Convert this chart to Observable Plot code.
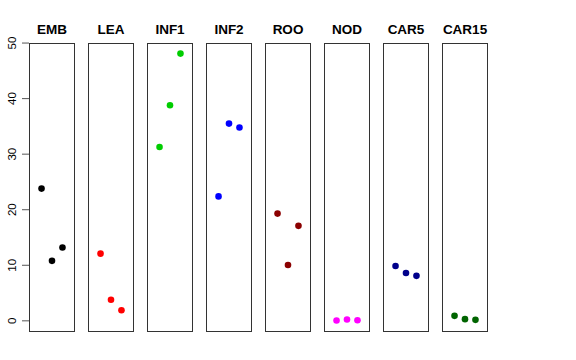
<!DOCTYPE html>
<html>
<head>
<meta charset="utf-8">
<script src="https://cdn.jsdelivr.net/npm/d3@7"></script>
<script src="https://cdn.jsdelivr.net/npm/@observablehq/plot@0.6"></script>
<style>
  body { margin: 0; background: #fff; }
  #chart svg { display: block; }
</style>
</head>
<body>
<div id="chart"></div>
<script>
const groups = ["EMB", "LEA", "INF1", "INF2", "ROO", "NOD", "CAR5", "CAR15"];
const colors = ["#000000", "#FF0000", "#00CD00", "#0000FF", "#8B0000", "#FF00FF", "#00008B", "#006400"];
const replicate = [1, 2, 3];
const values = {
  EMB:   [23.8, 10.8, 13.2],
  LEA:   [12.1, 3.8, 1.9],
  INF1:  [31.3, 38.8, 48.1],
  INF2:  [22.4, 35.5, 34.8],
  ROO:   [19.3, 10.05, 17.1],
  NOD:   [0.05, 0.23, 0.1],
  CAR5:  [9.87, 8.6, 8.1],
  CAR15: [0.9, 0.3, 0.18]
};
const yTicks = [0, 10, 20, 30, 40, 50];

const data = groups.flatMap(g => values[g].map((v, i) => ({group: g, rep: replicate[i], value: v})));

const plot = Plot.plot({
  width: 576,
  height: 360,
  marginLeft: 29,
  marginRight: 88,
  marginTop: 43,
  marginBottom: 29,
  style: {fontFamily: "'Liberation Sans', Arial, sans-serif", background: "#fff", color: "#000"},
  fx: {domain: groups, paddingInner: 0.237, paddingOuter: 0, label: null},
  x: {domain: [-0.15, 4.15], axis: null},
  y: {domain: [-1.92, 49.92], label: null},
  color: {domain: groups, range: colors},
  marks: [
    Plot.frame({stroke: "#333", strokeWidth: 1}),
    Plot.axisFx({anchor: "top", tickSize: 0, tickPadding: 10, fontWeight: "bold", fontSize: 13.5, label: null}),
    Plot.axisY({ticks: yTicks, tickSize: 7, tickPadding: 7, tickRotate: -90, fontSize: 11.5, label: null, stroke: "#555"}),
    Plot.dot(data, {fx: "group", x: "rep", y: "value", fill: "group", r: 3.3, stroke: null})
  ]
});
document.getElementById("chart").appendChild(plot);
</script>
</body>
</html>
